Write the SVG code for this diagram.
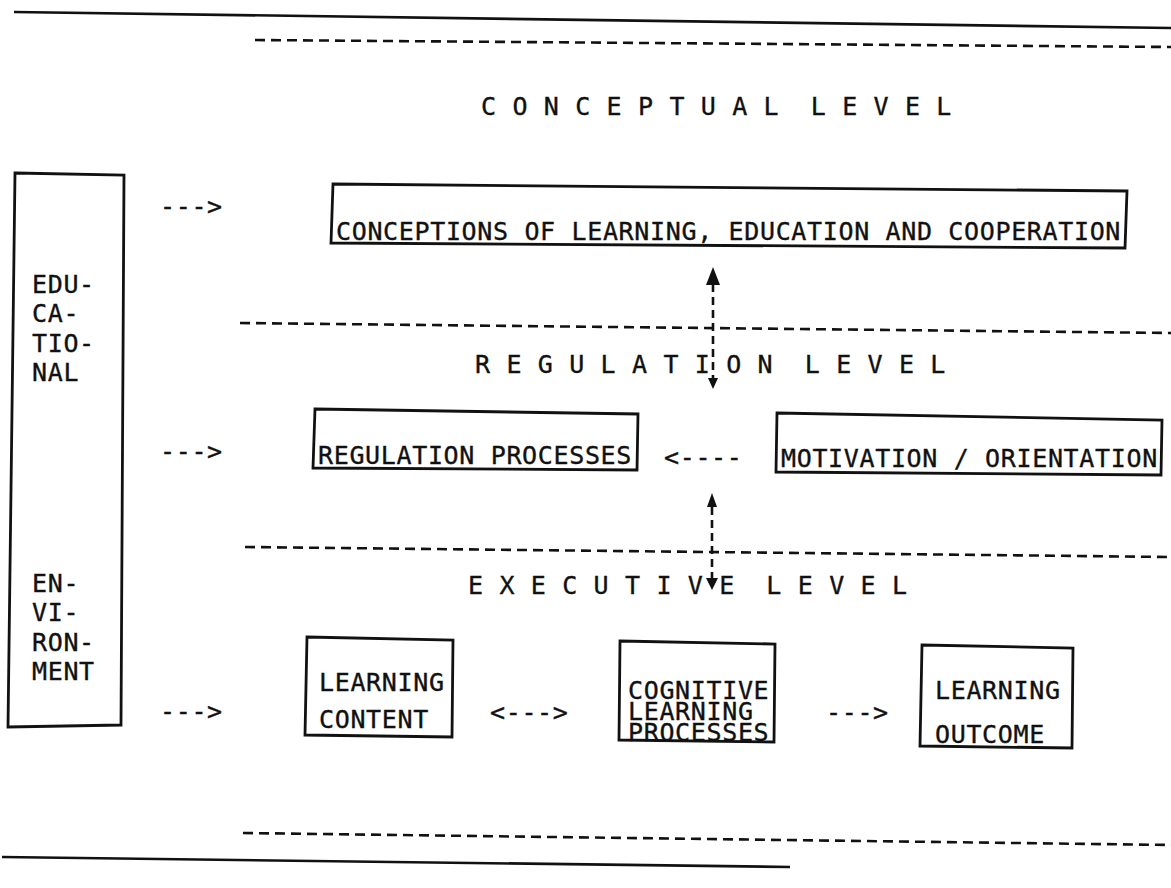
<svg xmlns="http://www.w3.org/2000/svg" width="1171" height="888" viewBox="0 0 1171 888">
  <style>
    .t{font-family:"DejaVu Sans Mono","Liberation Mono",monospace;font-size:25px;letter-spacing:0.65px;fill:#111;stroke:#111;stroke-width:0.35px;white-space:pre}
    .box{fill:none;stroke:#111;stroke-width:2.8;stroke-linejoin:miter}
    .dash{fill:none;stroke:#111;stroke-width:2.6;stroke-dasharray:10 6}
    .rule{fill:none;stroke:#111;stroke-width:2.6}
    .vdash{fill:none;stroke:#111;stroke-width:2.6;stroke-dasharray:8 5}
    .head{fill:#111}
  </style>

  <rect width="1171" height="888" fill="#fff"/>

  <!-- page rules and level separators -->
  <g id="rules">
    <line class="rule" x1="14" y1="12" x2="1171" y2="28"/>
    <line class="dash" x1="255" y1="40" x2="1171" y2="47"/>
    <line class="dash" x1="240" y1="323" x2="1171" y2="333"/>
    <line class="dash" x1="245" y1="547" x2="1171" y2="557"/>
    <line class="dash" x1="243" y1="833" x2="1171" y2="845"/>
    <line class="rule" x1="2" y1="857" x2="790" y2="867"/>
  </g>

  <!-- level headings -->
  <g id="level-labels">
    <text class="t" x="481" y="115">C O N C E P T U A L  L E V E L</text>
    <text class="t" x="475" y="373">R E G U L A T I O N  L E V E L</text>
    <text class="t" x="468" y="594">E X E C U T I V E  L E V E L</text>
  </g>

  <!-- left column: educational environment -->
  <g id="environment">
    <polygon class="box" points="15,173 124,175 121,725 8,727"/>
    <text class="t" x="32" y="293">EDU-</text>
    <text class="t" x="32" y="322">CA-</text>
    <text class="t" x="32" y="352">TIO-</text>
    <text class="t" x="32" y="381">NAL</text>
    <text class="t" x="32" y="592">EN-</text>
    <text class="t" x="32" y="621">VI-</text>
    <text class="t" x="32" y="651">RON-</text>
    <text class="t" x="32" y="680">MENT</text>
  </g>

  <g id="conceptions">
    <polygon class="box" points="333,184 1127,191 1125,248 331,243"/>
    <text class="t" x="336" y="240">CONCEPTIONS OF LEARNING, EDUCATION AND COOPERATION</text>
  </g>

  <g id="regulation-processes">
    <polygon class="box" points="315,409 638,414 637,470 313,468"/>
    <text class="t" x="318" y="464">REGULATION PROCESSES</text>
  </g>

  <g id="motivation">
    <polygon class="box" points="777,413 1162,420 1161,475 776,472"/>
    <text class="t" x="781" y="467">MOTIVATION / ORIENTATION</text>
  </g>

  <g id="learning-content">
    <polygon class="box" points="307,637 453,640 452,737 305,735"/>
    <text class="t" x="319" y="691">LEARNING</text>
    <text class="t" x="319" y="728">CONTENT</text>
  </g>

  <g id="cognitive-processes">
    <polygon class="box" points="620,641 775,644 774,742 619,740"/>
    <text class="t" x="628" y="699">COGNITIVE</text>
    <text class="t" x="628" y="720">LEARNING</text>
    <text class="t" x="628" y="741">PROCESSES</text>
  </g>

  <g id="learning-outcome">
    <polygon class="box" points="922,645 1073,648 1072,748 920,746"/>
    <text class="t" x="935" y="699">LEARNING</text>
    <text class="t" x="935" y="743">OUTCOME</text>
  </g>

  <!-- connectors -->
  <g id="connectors">
    <text class="t" x="160" y="215">---&gt;</text>
    <text class="t" x="160" y="460">---&gt;</text>
    <text class="t" x="160" y="720">---&gt;</text>
    <text class="t" x="664" y="466">&lt;----</text>
    <text class="t" x="490" y="721">&lt;---&gt;</text>
    <text class="t" x="826" y="721">---&gt;</text>

    <!-- conceptions <-> regulation level -->
    <line class="vdash" x1="713" y1="284" x2="713" y2="378"/>
    <polygon class="head" points="706,285 713,267 720,285"/>
    <polygon class="head" points="708,378 718,378 713,389"/>

    <!-- regulation <-> executive level -->
    <line class="vdash" x1="712" y1="507" x2="712" y2="580"/>
    <polygon class="head" points="707,507 712,493 717,507"/>
    <polygon class="head" points="706,578 718,578 712,590"/>
  </g>
</svg>
